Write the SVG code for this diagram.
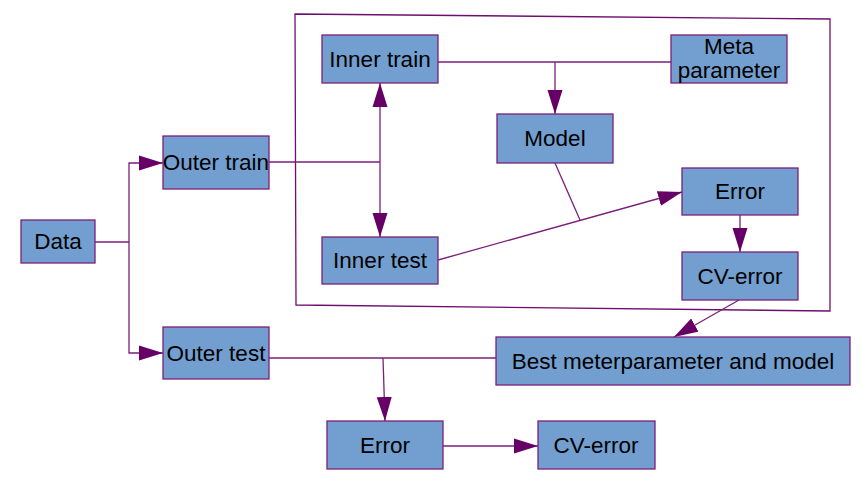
<svg xmlns="http://www.w3.org/2000/svg" width="862" height="488" viewBox="0 0 862 488">
<style>
.box{fill:#729fcf;stroke:#7b1f7b;stroke-width:1.3}
.lbl{font-family:"Liberation Sans",Arial,sans-serif;font-size:22.5px;fill:#000;text-anchor:middle}
.ln{fill:none;stroke:#7b1f7b;stroke-width:1.3}
.frame{fill:none;stroke:#6e0e6e;stroke-width:1.3}
</style>
<defs>
<marker id="ah" markerUnits="userSpaceOnUse" markerWidth="24" markerHeight="16" refX="24" refY="8" orient="auto-start-reverse" viewBox="0 0 24 16">
<path d="M0,0.5 L24,8 L0,15.5 Z" fill="#660066"/>
</marker>
</defs>
<rect width="862" height="488" fill="#fff"/>
<polygon class="frame" points="295,14 830,19 830,311 296,305"/>
<g id="connectors">
<path class="ln" d="M95,242 H129"/>
<path class="ln" d="M163,163 H129 V353 H163" marker-start="url(#ah)" marker-end="url(#ah)"/>
<path class="ln" d="M269,162 H380"/>
<path class="ln" d="M380,83 V237" marker-start="url(#ah)" marker-end="url(#ah)"/>
<path class="ln" d="M438,62 H671"/>
<path class="ln" d="M555,62 V114" marker-end="url(#ah)"/>
<path class="ln" d="M555,163 L580,220"/>
<path class="ln" d="M438,260 L682,192" marker-end="url(#ah)"/>
<path class="ln" d="M740,215 V252" marker-end="url(#ah)"/>
<path class="ln" d="M739,300 L674,337" marker-end="url(#ah)"/>
<path class="ln" d="M269,358 H496"/>
<path class="ln" d="M383,358 L385,421" marker-end="url(#ah)"/>
<path class="ln" d="M443,446 H538" marker-end="url(#ah)"/>
</g>
<g id="data"><rect class="box" x="21" y="220" width="74" height="43"/><text class="lbl" x="58" y="249">Data</text></g>
<g id="outer-train"><rect class="box" x="163" y="136" width="106" height="53"/><text class="lbl" x="216" y="170">Outer train</text></g>
<g id="outer-test"><rect class="box" x="163" y="327" width="106" height="52"/><text class="lbl" x="216" y="361">Outer test</text></g>
<g id="inner-train"><rect class="box" x="322" y="35" width="116" height="48"/><text class="lbl" x="380" y="67">Inner train</text></g>
<g id="inner-test"><rect class="box" x="322" y="237" width="116" height="47"/><text class="lbl" x="380" y="268">Inner test</text></g>
<g id="model"><rect class="box" x="497" y="114" width="116" height="49"/><text class="lbl" x="555" y="146">Model</text></g>
<g id="meta-parameter"><rect class="box" x="671" y="35" width="116" height="48"/><text class="lbl" x="729" y="54">Meta</text><text class="lbl" x="729" y="78">parameter</text></g>
<g id="inner-error"><rect class="box" x="682" y="168" width="116" height="47"/><text class="lbl" x="740" y="199">Error</text></g>
<g id="inner-cv-error"><rect class="box" x="682" y="252" width="116" height="48"/><text class="lbl" x="740" y="284">CV-error</text></g>
<g id="best"><rect class="box" x="496" y="337" width="354" height="48"/><text class="lbl" x="673" y="369">Best meterparameter and model</text></g>
<g id="outer-error"><rect class="box" x="327" y="421" width="116" height="48"/><text class="lbl" x="385" y="453">Error</text></g>
<g id="outer-cv-error"><rect class="box" x="538" y="421" width="117" height="48"/><text class="lbl" x="596" y="453">CV-error</text></g>
</svg>
